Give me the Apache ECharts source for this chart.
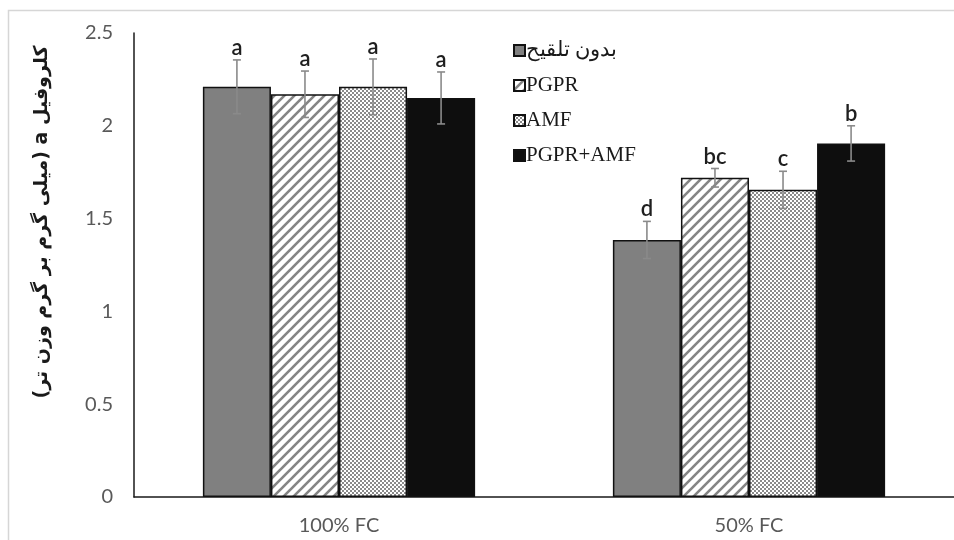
<!DOCTYPE html>
<html><head><meta charset="utf-8">
<script src="https://cdn.jsdelivr.net/npm/echarts@6/dist/echarts.min.js"></script>
<style>html,body{margin:0;padding:0;background:#fff}#c{width:954px;height:540px}</style>
</head><body><div id="c"></div>
<script>
// ---- data ----
const categories = ['100% FC', '50% FC'];
const seriesNames = ['بدون تلقیح', 'PGPR', 'AMF', 'PGPR+AMF'];
const control = [2.21, 1.385];
const pgpr = [2.17, 1.72];
const amf = [2.21, 1.655];
const both = [2.15, 1.905];
const errControl = [0.145, 0.1];
const errPgpr = [0.125, 0.05];
const errAmf = [0.15, 0.1];
const errBoth = [0.14, 0.095];
const lettersControl = ['a', 'd'];
const lettersPgpr = ['a', 'bc'];
const lettersAmf = ['a', 'c'];
const lettersBoth = ['a', 'b'];
const yTickLabels = ['0', '0.5', '1', '1.5', '2', '2.5'];
const yTitle = 'کلروفیل a (میلی گرم بر گرم وزن تر)';

// ---- patterns ----
function hatchPattern() {
  const c = document.createElement('canvas'); c.width = 10; c.height = 10;
  const g = c.getContext('2d');
  g.fillStyle = '#ffffff'; g.fillRect(0, 0, 10, 10);
  g.strokeStyle = '#858585'; g.lineWidth = 2.6;
  [[-10, 10, 10, -10], [0, 10, 10, 0], [0, 20, 20, 0]].forEach(l => {
    g.beginPath(); g.moveTo(l[0], l[1]); g.lineTo(l[2], l[3]); g.stroke();
  });
  return c;
}
function checkerPattern() {
  const c = document.createElement('canvas'); c.width = 4; c.height = 4;
  const g = c.getContext('2d');
  g.fillStyle = '#ffffff'; g.fillRect(0, 0, 4, 4);
  g.fillStyle = '#8a8a8a'; g.fillRect(0, 0, 2, 2); g.fillRect(2, 2, 2, 2);
  return c;
}
const fills = [
  '#808080',
  { image: hatchPattern(), repeat: 'repeat' },
  { image: checkerPattern(), repeat: 'repeat' },
  '#0e0e0e'
];
const values = [control, pgpr, amf, both];
const errs = [errControl, errPgpr, errAmf, errBoth];
const letters = [lettersControl, lettersPgpr, lettersAmf, lettersBoth];

const BAR_FRAC = 0.166;
const numFont = 'Lato, "Open Sans", sans-serif';

const barSeries = seriesNames.map((n, i) => ({
  name: n, type: 'bar', data: values[i],
  barWidth: (BAR_FRAC * 100) + '%', barGap: '0%',
  itemStyle: { color: fills[i], borderColor: '#111', borderWidth: 1.5 },
  z: 2
}));

const errData = [], errLetters = [];
values.forEach((arr, si) => arr.forEach((v, ci) => {
  errData.push([ci, v, errs[si][ci], si]);
  errLetters.push(letters[si][ci]);
}));

const errSeries = {
  type: 'custom', name: 'err', z: 5,
  data: errData, encode: { x: 0, y: 1 },
  renderItem(params, api) {
    const ci = api.value(0), v = api.value(1), e = api.value(2), si = api.value(3);
    const band = api.size([1, 0])[0];
    const bw = band * BAR_FRAC;
    const c = api.coord([ci, v]);
    const x = c[0] + (si - 1.5) * bw;
    const top = api.coord([ci, v + e])[1];
    const bot = api.coord([ci, v - e])[1];
    const cap = 4;
    const st = { stroke: '#8a8a8a', lineWidth: 1.6 };
    return { type: 'group', children: [
      { type: 'line', shape: { x1: x, y1: top, x2: x, y2: bot }, style: st },
      { type: 'line', shape: { x1: x - cap, y1: top, x2: x + cap, y2: top }, style: st },
      { type: 'line', shape: { x1: x - cap, y1: bot, x2: x + cap, y2: bot }, style: st },
      { type: 'text', x: x, y: top - 1, style: {
          text: errLetters[params.dataIndex], fill: '#1f1f1f',
          font: '600 22px ' + numFont, textAlign: 'center', textVerticalAlign: 'bottom' } }
    ]};
  }
};

const chart = echarts.init(document.getElementById('c'));
chart.setOption({
  animation: false,
  backgroundColor: '#ffffff',
  grid: { left: 134, width: 830, top: 33, bottom: 43, containLabel: false },
  xAxis: {
    type: 'category', data: categories,
    axisLine: { lineStyle: { color: '#1a1a1a', width: 1.5 } },
    axisTick: { show: false },
    axisLabel: { color: '#595959', fontSize: 20, fontFamily: numFont, margin: 19 }
  },
  yAxis: {
    type: 'value', min: 0, max: 2.5, interval: 0.5,
    axisLine: { show: true, lineStyle: { color: '#1a1a1a', width: 1.5 } },
    axisTick: { show: false }, splitLine: { show: false },
    axisLabel: { color: '#595959', fontSize: 20, fontFamily: numFont, margin: 21,
      formatter: (v) => yTickLabels[Math.round(v / 0.5)] }
  },
  legend: {
    data: seriesNames, orient: 'vertical', left: 508, top: 35,
    itemWidth: 11, itemHeight: 11, itemGap: 14, icon: 'rect',
    textStyle: { fontFamily: '"Liberation Serif", "DejaVu Serif", serif', fontSize: 21, color: '#1a1a1a', padding: [0, 0, 0, -4] }
  },
  graphic: [
    { type: 'rect', shape: { x: 8.5, y: 10.5, width: 1000, height: 600 },
      style: { fill: 'none', stroke: '#d6d6d6', lineWidth: 1.5 }, silent: true, z: -10 },
    { type: 'text', x: 42, y: 222, rotation: Math.PI / 2,
      style: { text: '\u202B' + yTitle + '\u202C', font: 'bold 19px "DejaVu Sans", sans-serif', fill: '#1a1a1a',
        textAlign: 'center', textVerticalAlign: 'middle' } }
  ],
  series: barSeries.concat([errSeries])
});
</script></body></html>
